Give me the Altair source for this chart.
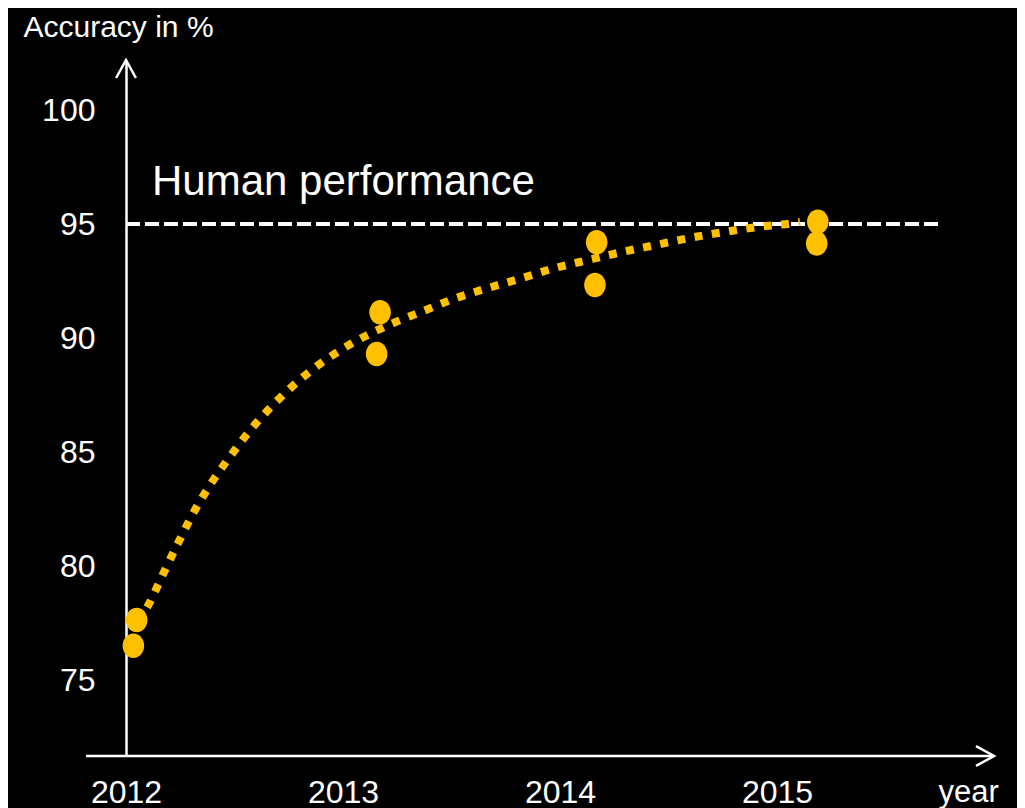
import altair as alt
import pandas as pd

# ---- data ----
dot_year = [2012.049, 2012.034, 2013.171, 2013.155, 2014.169, 2014.161, 2015.188, 2015.183]
dot_acc = [77.63, 76.50, 91.13, 89.30, 94.20, 92.32, 95.10, 94.15]

trend_year = [2012.055, 2012.101, 2012.171, 2012.240, 2012.313, 2012.396, 2012.488,
              2012.585, 2012.696, 2012.811, 2012.940, 2013.078, 2013.221, 2013.369,
              2013.521, 2013.668, 2013.825, 2013.977, 2014.129, 2014.286, 2014.442,
              2014.599, 2014.756, 2014.912, 2015.074, 2015.106]
trend_acc = [77.54, 78.25, 79.65, 81.01, 82.37, 83.68, 84.91,
             86.10, 87.24, 88.25, 89.17, 89.96, 90.61, 91.18,
             91.75, 92.19, 92.63, 93.07, 93.42, 93.77, 94.08,
             94.39, 94.65, 94.87, 95.04, 95.09]

human_level = [95]
human_label = ["Human performance"]

y_ticks = [75, 80, 85, 90, 95, 100]
x_ticks = [2012, 2013, 2014, 2015]

# ---- scale / layout settings ----
X_DOMAIN = [2012, 2016]
Y_DOMAIN = [71.667, 102.193]
X_AXIS_START = 2011.816
HUMAN_LINE_END = 2015.742
LABEL_POS = (2012.12, 96.27)

GOLD = "#FFC000"
WHITE = "#FFFFFF"
FONT = "Liberation Sans"

x_scale = alt.Scale(domain=X_DOMAIN, nice=False, zero=False)
y_scale = alt.Scale(domain=Y_DOMAIN, nice=False, zero=False)

x_axis = alt.Axis(values=x_ticks, format="d", domain=False, ticks=False, grid=False,
                  labelPadding=46, labelBaseline="alphabetic", labelFontSize=32,
                  labelColor=WHITE, labelFont=FONT, labelOverlap=False, labelFlush=False,
                  title="year", titleX=812, titleY=45, titleAlign="left",
                  titleBaseline="alphabetic", titleFontSize=31, titleFontWeight="normal",
                  titleColor=WHITE, titleFont=FONT)
y_axis = alt.Axis(values=y_ticks, domain=True, domainColor=WHITE, domainWidth=2.5,
                  ticks=False, tickSize=0, grid=False, labelPadding=31, labelFontSize=32,
                  labelColor=WHITE, labelFont=FONT,
                  title="Accuracy in %", titleAngle=0, titleX=-103, titleY=-24,
                  titleAlign="left", titleBaseline="alphabetic", titleFontSize=30,
                  titleFontWeight="normal", titleColor=WHITE, titleFont=FONT)

dots_df = pd.DataFrame({"year": dot_year, "acc": dot_acc})
trend_df = pd.DataFrame({"year": trend_year, "acc": trend_acc})
human_df = pd.DataFrame({"x": [X_DOMAIN[0]], "x2": [HUMAN_LINE_END], "y": human_level})
label_df = pd.DataFrame({"x": [LABEL_POS[0]], "y": [LABEL_POS[1]], "t": human_label})
xline_df = pd.DataFrame({"x": [X_AXIS_START], "x2": [X_DOMAIN[1]], "y": [Y_DOMAIN[0]]})
yarrow_df = pd.DataFrame({"x": [X_DOMAIN[0]], "y": [Y_DOMAIN[1]]})
xarrow_df = pd.DataFrame({"x": [X_DOMAIN[1]], "y": [Y_DOMAIN[0]]})


def X(field):
    return alt.X(f"{field}:Q", scale=x_scale, axis=x_axis)


def Y(field):
    return alt.Y(f"{field}:Q", scale=y_scale, axis=y_axis)


xline = alt.Chart(xline_df).mark_rule(color=WHITE, strokeWidth=2.5, clip=False).encode(
    x=X("x"), x2="x2:Q", y=Y("y"))

yarrow = alt.Chart(yarrow_df).mark_point(
    shape="M-0.55,1L0,0L0.55,1", size=1296, filled=False, stroke=WHITE,
    strokeWidth=2.5, opacity=1, clip=False).encode(x=X("x"), y=Y("y"))

xarrow = alt.Chart(xarrow_df).mark_point(
    shape="M-1,-0.55L0,0L-1,0.55", size=1296, filled=False, stroke=WHITE,
    strokeWidth=2.5, opacity=1, clip=False).encode(x=X("x"), y=Y("y"))

human = alt.Chart(human_df).mark_rule(color=WHITE, strokeWidth=4, strokeDash=[14, 5]).encode(
    x=X("x"), x2="x2:Q", y=Y("y"))

label = alt.Chart(label_df).mark_text(
    align="left", baseline="alphabetic", fontSize=42, color=WHITE, font=FONT).encode(
    x=X("x"), y=Y("y"), text="t:N")

trend = alt.Chart(trend_df).mark_line(
    color=GOLD, strokeWidth=8, strokeDash=[8, 9.5], interpolate="monotone",
    strokeCap="butt").encode(x=X("year"), y=Y("acc"))

# slightly tall elliptical dots, as in the slide
dots = alt.Chart(dots_df).mark_point(
    shape="M0,-1A0.88,1 0 1,1 0,1A0.88,1 0 1,1 0,-1Z", size=600, filled=True,
    color=GOLD, opacity=1).encode(x=X("year"), y=Y("acc"))

chart = alt.layer(xline, yarrow, xarrow, human, label, trend, dots).properties(
    width=868, height=696,
    padding={"left": 118, "top": 52, "right": 23, "bottom": 52},
    autosize=alt.AutoSizeParams(type="none"),
    background="black",
).configure(font=FONT).configure_view(stroke=None)

chart.save("out.html", embed_options={"renderer": "svg", "actions": False})
